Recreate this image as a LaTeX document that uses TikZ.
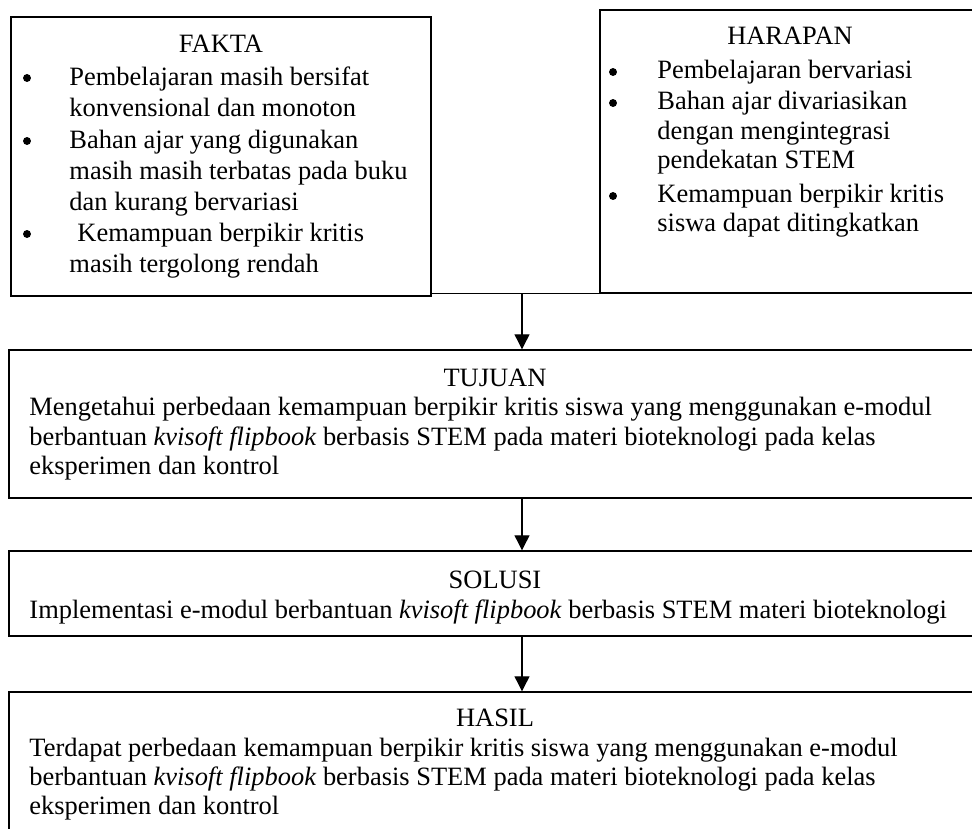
\documentclass[tikz,border=0pt]{standalone}
\usepackage{fontspec}
\setmainfont{Liberation Serif}
\usetikzlibrary{arrows.meta,fit}
\begin{document}
\begin{tikzpicture}[x=0.4535pt,y=-0.4535pt,
  box/.style={draw, line width=0.65pt, inner sep=0pt},
  txt/.style={anchor=base west, inner sep=0pt, font=\fontsize{12}{14}\selectfont},
  ttl/.style={anchor=base, inner sep=0pt, font=\fontsize{12}{14}\selectfont},
  bul/.style={circle, fill=black, inner sep=0pt, minimum size=3.6pt},
  conn/.style={line width=0.55pt},
  arr/.style={line width=0.55pt, -{Triangle[width=6.8pt,length=6.8pt]}}]
\useasboundingbox (0,0) rectangle (972,828);
\clip (0,0) rectangle (972,828);
% boxes
\node[box, fit={(11,17) (431,296)}] (fakta) {};
\node[box, fit={(600,10) (990,293)}] (harapan) {};
\node[box, fit={(9,350) (990,498)}] (tujuan) {};
\node[box, fit={(9,551) (990,636)}] (solusi) {};
\node[box, fit={(9,692) (990,850)}] (hasil) {};
% FAKTA text
\node[ttl] (ft) at (221,52) {FAKTA};
\node[bul] (fb1) at (27,78) {};
\node[bul] (fb2) at (27,141) {};
\node[bul] (fb3) at (27,234) {};
\node[txt] (f1) at (69,85) {Pembelajaran masih bersifat};
\node[txt] (f2) at (69,116) {konvensional dan monoton};
\node[txt] (f3) at (69,148) {Bahan ajar yang digunakan};
\node[txt] (f4) at (69,179) {masih masih terbatas pada buku};
\node[txt] (f5) at (69,210) {dan kurang bervariasi};
\node[txt] (f6) at (77,241) {Kemampuan berpikir kritis};
\node[txt] (f7) at (69,272) {masih tergolong rendah};
% HARAPAN text
\node[ttl] (ht) at (790,44) {HARAPAN};
\node[bul] (hb1) at (613,72) {};
\node[bul] (hb2) at (613,103) {};
\node[bul] (hb3) at (613,196) {};
\node[txt] (h1) at (657,78) {Pembelajaran bervariasi};
\node[txt] (h2) at (657,109) {Bahan ajar divariasikan};
\node[txt] (h3) at (657,139) {dengan mengintegrasi};
\node[txt] (h4) at (657,168) {pendekatan STEM};
\node[txt] (h5) at (657,202) {Kemampuan berpikir kritis};
\node[txt] (h6) at (657,231) {siswa dapat ditingkatkan};
% TUJUAN text
\node[ttl] (tt) at (495,386) {TUJUAN};
\node[txt] (t1) at (29,415) {Mengetahui perbedaan kemampuan berpikir kritis siswa yang menggunakan e-modul};
\node[txt] (t2) at (29,445) {berbantuan \textit{kvisoft flipbook} berbasis STEM pada materi bioteknologi pada kelas};
\node[txt] (t3) at (29,474) {eksperimen dan kontrol};
% SOLUSI text
\node[ttl] (st) at (495,588) {SOLUSI};
\node[txt] (s1) at (29,618) {Implementasi e-modul berbantuan \textit{kvisoft flipbook} berbasis STEM materi bioteknologi};
% HASIL text
\node[ttl] (hat) at (495,726) {HASIL};
\node[txt] (ha1) at (29,756) {Terdapat perbedaan kemampuan berpikir kritis siswa yang menggunakan e-modul};
\node[txt] (ha2) at (29,785) {berbantuan \textit{kvisoft flipbook} berbasis STEM pada materi bioteknologi pada kelas};
\node[txt] (ha3) at (29,814) {eksperimen dan kontrol};
% connectors
\coordinate (j) at (522,293);
\draw[conn] (fakta.east |- harapan.south west) -- (harapan.south west);
\draw[arr] (j) -- (j |- tujuan.north);
\draw[arr] (tujuan.south -| j) -- (solusi.north -| j);
\draw[arr] (solusi.south -| j) -- (hasil.north -| j);
\end{tikzpicture}
\end{document}
